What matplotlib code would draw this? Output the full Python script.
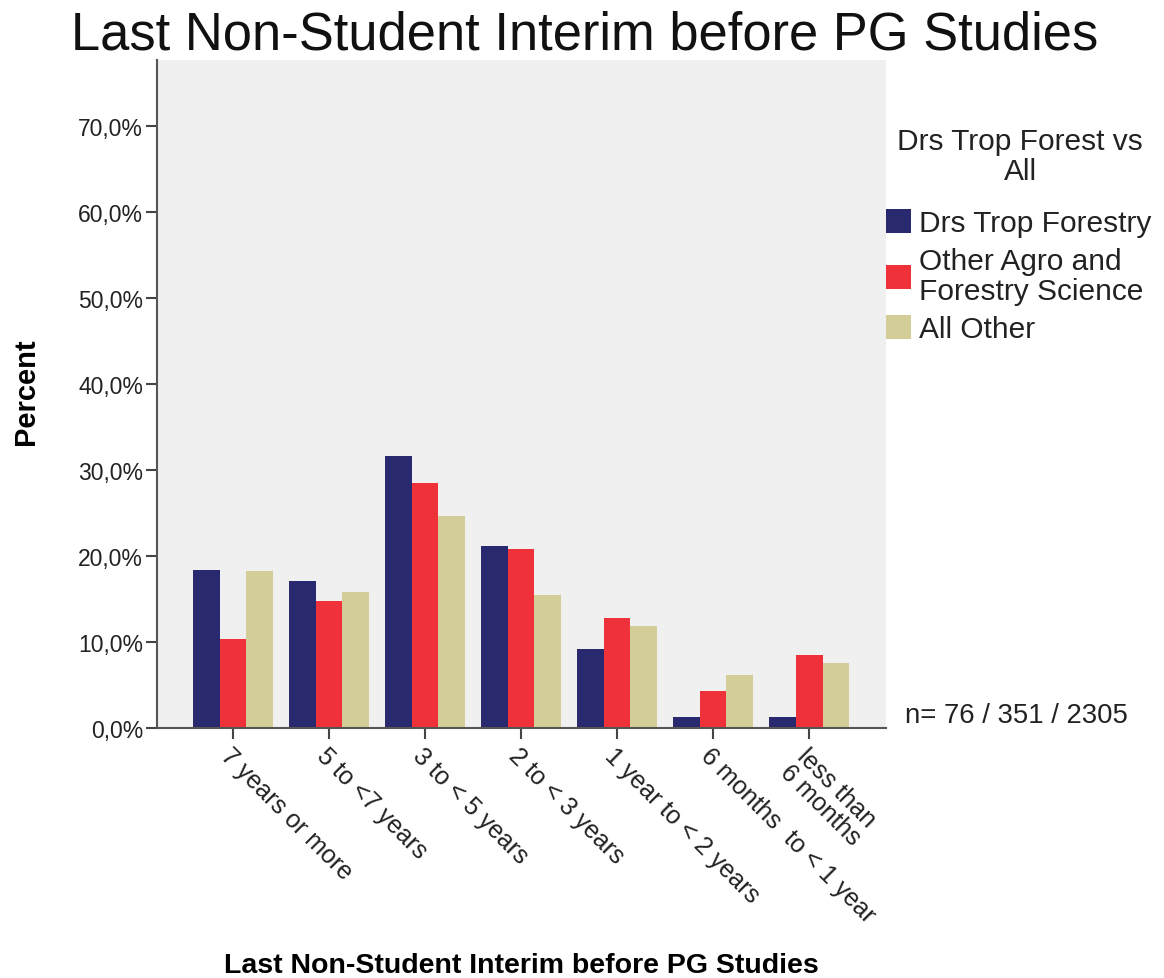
import numpy as np
import matplotlib
matplotlib.use("Agg")
import matplotlib.pyplot as plt

plt.rcParams['font.family'] = ['Liberation Sans', 'DejaVu Sans']

# percent of each group per interim category
categories = ["7 years or more", "5 to <7 years", "3 to < 5 years", "2 to < 3 years",
              "1 year to < 2 years", "6 months  to < 1 year", "less than\n6 months"]
drs_trop = [18.4, 17.1, 31.6, 21.1, 9.2, 1.3, 1.3]
other_agro = [10.3, 14.8, 28.5, 20.8, 12.8, 4.3, 8.5]
all_other = [18.2, 15.8, 24.7, 15.5, 11.9, 6.1, 7.6]
series_names = ["Drs Trop Forestry", "Other Agro and\nForestry Science", "All Other"]
colors = ["#29296F", "#EF323A", "#D3CE97"]
yticks = [0, 10, 20, 30, 40, 50, 60, 70]

fig = plt.figure(figsize=(11.64, 9.79), dpi=100)
ax = fig.add_axes([0.1349, 0.2554, 0.6263, 0.6826])
ax.set_facecolor("#F0F0F0")

x = np.arange(len(categories))
w = 0.278
for i, (vals, name, c) in enumerate(zip([drs_trop, other_agro, all_other], series_names, colors)):
    ax.bar(x + (i - 1) * w, vals, width=w, color=c, label=name, linewidth=0)

ax.set_xlim(-0.79, 6.8)
ax.set_ylim(0, 77.7)
ax.set_yticks(yticks)
ax.set_yticklabels([f"{v},0%" for v in yticks], fontsize=16.5, color="#222222")
ax.set_xticks(x)
ax.set_xticklabels(categories, rotation=-45, ha="left", va="top",
                   rotation_mode="anchor", fontsize=18, color="#222222", linespacing=0.95)
ax.tick_params(axis="both", direction="out", length=8, width=1.5, color="#444444")
ax.tick_params(axis="x", pad=3)
ax.tick_params(axis="y", pad=2)

for s in ["top", "right"]:
    ax.spines[s].set_visible(False)
for s in ["left", "bottom"]:
    ax.spines[s].set_color("#555555")
    ax.spines[s].set_linewidth(1.5)

ax.set_ylabel("Percent", fontsize=21, fontweight="bold")
ax.yaxis.set_label_coords(-0.16, 0.505)
ax.set_xlabel("Last Non-Student Interim before PG Studies", fontsize=20.5, fontweight="bold")
ax.xaxis.set_label_coords(0.5, -0.335)

fig.text(0.502, 0.964, "Last Non-Student Interim before PG Studies", fontsize=37.8,
         ha="center", va="center", color="#111111")

# legend title drawn on its own so the gap below it can be set
fig.text(1020 / 1164, 1 - 157 / 979, "Drs Trop Forest vs\nAll", fontsize=21.5,
         ha="center", va="center", multialignment="center", linespacing=1.1,
         color="#222222")
leg = ax.legend(loc="upper left", bbox_to_anchor=(1.0, 0.7765), frameon=False,
                fontsize=21.5, handlelength=0.85, handleheight=0.85, handletextpad=0.25,
                labelspacing=0.33, borderpad=0, borderaxespad=0)
for t in leg.get_texts():
    t.set_color("#222222")
    t.set_linespacing(1.1)

fig.text(905 / 1164, 1 - 716 / 979, "n= 76 / 351 / 2305", fontsize=19.8,
         ha="left", va="center", color="#222222")

fig.savefig("out.png", dpi=100)
